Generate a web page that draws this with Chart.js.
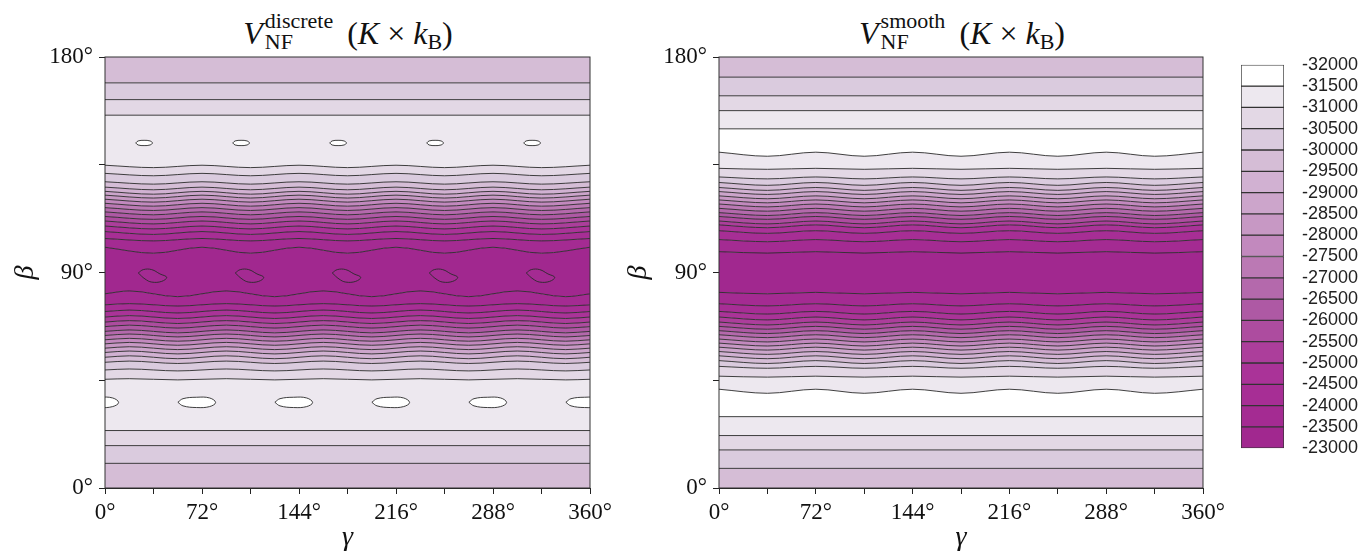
<!DOCTYPE html>
<html>
<head>
<meta charset="utf-8">
<script src="https://cdn.jsdelivr.net/npm/chart.js@4.4.1/dist/chart.umd.min.js"></script>
<style>
body { margin: 0; background: #fff; width: 1363px; height: 552px; overflow: hidden; position: relative; font-family: 'Liberation Serif', serif; }
canvas { position: absolute; }
.ttl { position: absolute; top: 10px; width: 480px; text-align: center; font-size: 32px; line-height: 40px; color: #111; white-space: nowrap; }
.ss { display: inline-flex; flex-direction: column; font-size: 22px; line-height: 21px; vertical-align: 16px; margin-left: 2px; text-align: left; }
.sub { font-size: 22px; vertical-align: -5px; }
.gap { display: inline-block; width: 14px; }
</style>
</head>
<body>
<div class="ttl" style="left:108px"><i>V</i><span class="ss"><span>discrete</span><span>NF</span></span><span class="gap"></span>(<i>K</i>&nbsp;×&nbsp;<i>k</i><span class="sub">B</span>)</div>
<div class="ttl" style="left:722px"><i>V</i><span class="ss"><span>smooth</span><span>NF</span></span><span class="gap"></span>(<i>K</i>&nbsp;×&nbsp;<i>k</i><span class="sub">B</span>)</div>
<canvas id="left" width="620" height="552" style="left:0;top:0"></canvas>
<canvas id="right" width="619" height="552" style="left:614px;top:0"></canvas>
<canvas id="bar" width="127" height="441" style="left:1236px;top:36px"></canvas>
<script>
// tick labels
const gammaTicks = [0, 72, 144, 216, 288, 360];
const betaTicks = [0, 90, 180];
const colorbarTicks = [-32000, -31500, -31000, -30500, -30000, -29500, -29000, -28500, -28000, -27500,
  -27000, -26500, -26000, -25500, -25000, -24500, -24000, -23500, -23000];
const bandColors = ['#ffffff', '#ede8ef', '#e3d8e5', '#dacbde', '#d5bdd6', '#d1b1d2', '#cca5cb', '#c798c4', '#c289be',
  '#bb79b4', '#b469ac', '#ae59a4', '#ad4c9f', '#ac3e9b', '#aa3398', '#a72e95', '#a42b92', '#a1288f'];

// gamma positions where the contour lines were read
const gammaFlat = [0, 360];
const gammaWave = [0, 36, 72, 108, 144, 180, 216, 252, 288, 324, 360];
const gammaWaveShifted = [0, 18, 54, 90, 126, 162, 198, 234, 270, 306, 342, 360];

// left panel (discrete): contour lines from bottom to top, beta in degrees
const leftBetas = [
  [10.3, 10.3],
  [17.7, 17.7],
  [24.0, 24.0],
  [45.4, 45.65, 45.15, 45.65, 45.15, 45.65, 45.15, 45.65, 45.15, 45.65, 45.15, 45.4],
  [49.3, 49.7, 48.9, 49.7, 48.9, 49.7, 48.9, 49.7, 48.9, 49.7, 48.9, 49.3],
  [52.5, 53.0, 52.0, 53.0, 52.0, 53.0, 52.0, 53.0, 52.0, 53.0, 52.0, 52.5],
  [54.6, 55.2, 54.0, 55.2, 54.0, 55.2, 54.0, 55.2, 54.0, 55.2, 54.0, 54.6],
  [56.6, 57.2, 56.0, 57.2, 56.0, 57.2, 56.0, 57.2, 56.0, 57.2, 56.0, 56.6],
  [58.4, 59.0, 57.8, 59.0, 57.8, 59.0, 57.8, 59.0, 57.8, 59.0, 57.8, 58.4],
  [60.2, 60.8, 59.6, 60.8, 59.6, 60.8, 59.6, 60.8, 59.6, 60.8, 59.6, 60.2],
  [61.9, 62.5, 61.3, 62.5, 61.3, 62.5, 61.3, 62.5, 61.3, 62.5, 61.3, 61.9],
  [63.7, 64.3, 63.1, 64.3, 63.1, 64.3, 63.1, 64.3, 63.1, 64.3, 63.1, 63.7],
  [65.4, 66.0, 64.8, 66.0, 64.8, 66.0, 64.8, 66.0, 64.8, 66.0, 64.8, 65.4],
  [67.4, 68.0, 66.8, 68.0, 66.8, 68.0, 66.8, 68.0, 66.8, 68.0, 66.8, 67.4],
  [69.3, 69.9, 68.7, 69.9, 68.7, 69.9, 68.7, 69.9, 68.7, 69.9, 68.7, 69.3],
  [71.4, 72.0, 70.8, 72.0, 70.8, 72.0, 70.8, 72.0, 70.8, 72.0, 70.8, 71.4],
  [73.7, 74.3, 73.1, 74.3, 73.1, 74.3, 73.1, 74.3, 73.1, 74.3, 73.1, 73.7],
  [76.5, 77.0, 76.0, 77.0, 76.0, 77.0, 76.0, 77.0, 76.0, 77.0, 76.0, 76.5],
  [81.1, 82.3, 79.9, 82.3, 79.9, 82.3, 79.9, 82.3, 79.9, 82.3, 79.9, 81.1],
  [100.55, 98.05, 100.55, 98.05, 100.55, 98.05, 100.55, 98.05, 100.55, 98.05, 100.55],
  [104.2, 103.2, 104.2, 103.2, 104.2, 103.2, 104.2, 103.2, 104.2, 103.2, 104.2],
  [107.1, 105.9, 107.1, 105.9, 107.1, 105.9, 107.1, 105.9, 107.1, 105.9, 107.1],
  [109.4, 108.2, 109.4, 108.2, 109.4, 108.2, 109.4, 108.2, 109.4, 108.2, 109.4],
  [111.5, 110.3, 111.5, 110.3, 111.5, 110.3, 111.5, 110.3, 111.5, 110.3, 111.5],
  [113.4, 112.2, 113.4, 112.2, 113.4, 112.2, 113.4, 112.2, 113.4, 112.2, 113.4],
  [115.3, 114.1, 115.3, 114.1, 115.3, 114.1, 115.3, 114.1, 115.3, 114.1, 115.3],
  [117.1, 115.9, 117.1, 115.9, 117.1, 115.9, 117.1, 115.9, 117.1, 115.9, 117.1],
  [118.9, 117.7, 118.9, 117.7, 118.9, 117.7, 118.9, 117.7, 118.9, 117.7, 118.9],
  [120.6, 119.4, 120.6, 119.4, 120.6, 119.4, 120.6, 119.4, 120.6, 119.4, 120.6],
  [122.3, 121.1, 122.3, 121.1, 122.3, 121.1, 122.3, 121.1, 122.3, 121.1, 122.3],
  [123.9, 122.7, 123.9, 122.7, 123.9, 122.7, 123.9, 122.7, 123.9, 122.7, 123.9],
  [125.65, 124.55, 125.65, 124.55, 125.65, 124.55, 125.65, 124.55, 125.65, 124.55, 125.65],
  [127.9, 126.9, 127.9, 126.9, 127.9, 126.9, 127.9, 126.9, 127.9, 126.9, 127.9],
  [131.4, 130.4, 131.4, 130.4, 131.4, 130.4, 131.4, 130.4, 131.4, 130.4, 131.4],
  [134.8, 133.8, 134.8, 133.8, 134.8, 133.8, 134.8, 133.8, 134.8, 133.8, 134.8],
  [155.7, 155.7],
  [162.2, 162.2],
  [169.2, 169.2]
];
// lower edge (value) of the band filling each gap, bottom edge to top edge
const leftGapLevels = [-30000, -30500, -31000, -31500, -31000, -30500, -30000, -29500, -29000, -28500,
  -28000, -27500, -27000, -26500, -26000, -25500, -25000, -24500, -24000, -23500,
  -24000, -24500, -25000, -25500, -26000, -26500, -27000, -27500, -28000, -28500,
  -29000, -29500, -30000, -30500, -31000, -31500, -31000, -30500, -30000];

// closed contour islands in the left panel
const upperIslandGammas = [29, 101, 173, 245, 317];
const upperIslandBeta = 144.1;
const upperIslandDx = [-6.2, -4.4, 0, 4.4, 6.2, 4.4, 0, -4.4, -6.2];
const upperIslandDb = [0, 0.85, 1.1, 0.85, 0, -0.85, -1.1, -0.85, 0];
const midIslandGammas = [35, 107, 179, 251, 323];
const midIslandBeta = 88.6;
const midIslandDx = [-10.3, -6.6, -0.3, 5.8, 10.8, 7.1, -0.3, -5.3, -10.3];
const midIslandDb = [1.2, 2.6, 2.6, 0.8, -0.6, -2.3, -2.6, -1.3, 1.2];
const lowerIslandGammas = [-4, 68, 140, 212, 284, 356];
const lowerIslandBeta = 35.8;
const lowerIslandDx = [-13.9, -10.1, 0, 9.7, 14.1, 9.7, 0, -10.1, -13.9];
const lowerIslandDb = [0, 1.5, 2.1, 1.8, -0.1, -1.8, -2.2, -1.5, 0];

// right panel (smooth): contour lines from bottom to top
const rightBetas = [
  [8.2, 8.2],
  [15.9, 15.9],
  [21.9, 21.9],
  [29.8, 29.8],
  [41.25, 39.55, 41.25, 39.55, 41.25, 39.55, 41.25, 39.55, 41.25, 39.55, 41.25],
  [46.7, 46.3, 46.7, 46.3, 46.7, 46.3, 46.7, 46.3, 46.7, 46.3, 46.7],
  [50.8, 50.0, 50.8, 50.0, 50.8, 50.0, 50.8, 50.0, 50.8, 50.0, 50.8],
  [53.2, 52.0, 53.2, 52.0, 53.2, 52.0, 53.2, 52.0, 53.2, 52.0, 53.2],
  [55.2, 54.0, 55.2, 54.0, 55.2, 54.0, 55.2, 54.0, 55.2, 54.0, 55.2],
  [57.0, 55.8, 57.0, 55.8, 57.0, 55.8, 57.0, 55.8, 57.0, 55.8, 57.0],
  [58.8, 57.6, 58.8, 57.6, 58.8, 57.6, 58.8, 57.6, 58.8, 57.6, 58.8],
  [60.5, 59.3, 60.5, 59.3, 60.5, 59.3, 60.5, 59.3, 60.5, 59.3, 60.5],
  [62.2, 61.0, 62.2, 61.0, 62.2, 61.0, 62.2, 61.0, 62.2, 61.0, 62.2],
  [64.0, 62.8, 64.0, 62.8, 64.0, 62.8, 64.0, 62.8, 64.0, 62.8, 64.0],
  [65.7, 64.5, 65.7, 64.5, 65.7, 64.5, 65.7, 64.5, 65.7, 64.5, 65.7],
  [67.5, 66.3, 67.5, 66.3, 67.5, 66.3, 67.5, 66.3, 67.5, 66.3, 67.5],
  [69.3, 68.1, 69.3, 68.1, 69.3, 68.1, 69.3, 68.1, 69.3, 68.1, 69.3],
  [71.4, 70.2, 71.4, 70.2, 71.4, 70.2, 71.4, 70.2, 71.4, 70.2, 71.4],
  [73.75, 72.65, 73.75, 72.65, 73.75, 72.65, 73.75, 72.65, 73.75, 72.65, 73.75],
  [76.95, 76.05, 76.95, 76.05, 76.95, 76.05, 76.95, 76.05, 76.95, 76.05, 76.95],
  [81.7, 81.1, 81.7, 81.1, 81.7, 81.1, 81.7, 81.1, 81.7, 81.1, 81.7],
  [98.7, 98.1, 98.7, 98.1, 98.7, 98.1, 98.7, 98.1, 98.7, 98.1, 98.7],
  [103.75, 102.85, 103.75, 102.85, 103.75, 102.85, 103.75, 102.85, 103.75, 102.85, 103.75],
  [107.45, 106.35, 107.45, 106.35, 107.45, 106.35, 107.45, 106.35, 107.45, 106.35, 107.45],
  [109.9, 108.7, 109.9, 108.7, 109.9, 108.7, 109.9, 108.7, 109.9, 108.7, 109.9],
  [111.5, 110.3, 111.5, 110.3, 111.5, 110.3, 111.5, 110.3, 111.5, 110.3, 111.5],
  [113.4, 112.2, 113.4, 112.2, 113.4, 112.2, 113.4, 112.2, 113.4, 112.2, 113.4],
  [115.0, 113.8, 115.0, 113.8, 115.0, 113.8, 115.0, 113.8, 115.0, 113.8, 115.0],
  [116.8, 115.6, 116.8, 115.6, 116.8, 115.6, 116.8, 115.6, 116.8, 115.6, 116.8],
  [118.6, 117.4, 118.6, 117.4, 118.6, 117.4, 118.6, 117.4, 118.6, 117.4, 118.6],
  [120.3, 119.1, 120.3, 119.1, 120.3, 119.1, 120.3, 119.1, 120.3, 119.1, 120.3],
  [122.0, 120.8, 122.0, 120.8, 122.0, 120.8, 122.0, 120.8, 122.0, 120.8, 122.0],
  [123.8, 122.6, 123.8, 122.6, 123.8, 122.6, 123.8, 122.6, 123.8, 122.6, 123.8],
  [125.5, 124.3, 125.5, 124.3, 125.5, 124.3, 125.5, 124.3, 125.5, 124.3, 125.5],
  [127.6, 126.4, 127.6, 126.4, 127.6, 126.4, 127.6, 126.4, 127.6, 126.4, 127.6],
  [129.9, 129.1, 129.9, 129.1, 129.9, 129.1, 129.9, 129.1, 129.9, 129.1, 129.9],
  [133.5, 133.1, 133.5, 133.1, 133.5, 133.1, 133.5, 133.1, 133.5, 133.1, 133.5],
  [140.25, 138.55, 140.25, 138.55, 140.25, 138.55, 140.25, 138.55, 140.25, 138.55, 140.25],
  [150.0, 150.0],
  [157.6, 157.6],
  [163.8, 163.8],
  [171.6, 171.6]
];
const rightGapLevels = [-30000, -30500, -31000, -31500, -32000, -31500, -31000, -30500, -30000, -29500,
  -29000, -28500, -28000, -27500, -27000, -26500, -26000, -25500, -25000, -24500,
  -24000, -23500, -24000, -24500, -25000, -25500, -26000, -26500, -27000, -27500,
  -28000, -28500, -29000, -29500, -30000, -30500, -31000, -31500, -32000, -31500,
  -31000, -30500, -30000];

const serif = "'Liberation Serif', 'Times New Roman', serif";
const lineColor = '#2a2a2a';
const grids = { 2: gammaFlat, 11: gammaWave, 12: gammaWaveShifted };

function bandColor(level) {
  return bandColors[colorbarTicks.indexOf(level)];
}

function contourSets(betas, gapLevels, islands) {
  const sets = betas.map((line, i) => ({
    data: line.map((b, k) => ({ x: grids[line.length][k], y: b })),
    borderColor: lineColor,
    borderWidth: 0.9,
    pointRadius: 0,
    cubicInterpolationMode: 'monotone',
    fill: i === 0 ? 'start' : '-1',
    backgroundColor: bandColor(gapLevels[i]),
    order: 1
  }));
  // top edge of the plot closes the last band
  sets.push({
    data: [{ x: 0, y: 180 }, { x: 360, y: 180 }],
    borderColor: 'rgba(0,0,0,0)',
    borderWidth: 0,
    pointRadius: 0,
    fill: '-1',
    backgroundColor: bandColor(gapLevels[betas.length]),
    order: 1
  });
  islands.forEach(isl => {
    isl.gammas.forEach(g => {
      sets.push({
        data: isl.dx.map((d, k) => ({ x: g + d, y: isl.beta + isl.db[k] })),
        borderColor: lineColor,
        borderWidth: 0.9,
        pointRadius: 0,
        tension: 0.4,
        fill: 'shape',
        backgroundColor: bandColor(isl.level),
        order: 0
      });
    });
  });
  return sets;
}

const framePlugin = {
  id: 'frame',
  afterDatasetsDraw(chart) {
    const { ctx, chartArea: a } = chart;
    ctx.save();
    ctx.strokeStyle = '#333';
    ctx.lineWidth = 1;
    ctx.strokeRect(a.left, a.top, a.right - a.left, a.bottom - a.top);
    ctx.restore();
  }
};

function panelOptions(betaPad) {
  return {
    responsive: false,
    animation: false,
    events: [],
    layout: { padding: { top: 57, right: 30, left: 0, bottom: 0 } },
    plugins: { legend: { display: false }, tooltip: { enabled: false } },
    scales: {
      x: {
        type: 'linear', min: 0, max: 360,
        afterFit: s => { s.height = 64; },
        ticks: {
          stepSize: 36, autoSkip: false, maxRotation: 0, padding: 5, color: '#111',
          font: { family: serif, size: 23 },
          callback: v => gammaTicks.includes(v) ? v + '°' : ''
        },
        grid: { drawOnChartArea: false, tickLength: 6, color: '#222' },
        border: { color: '#222' },
        title: { display: true, text: 'γ', color: '#111', padding: { top: 0, bottom: 0 },
          font: { family: serif, size: 28, style: 'italic', lineHeight: 1 } }
      },
      y: {
        type: 'linear', min: 0, max: 180,
        afterFit: s => { s.width = 105; },
        ticks: {
          stepSize: 45, autoSkip: false, padding: 6, color: '#111',
          font: { family: serif, size: 23 },
          callback: v => betaTicks.includes(v) ? v + '°' : ''
        },
        grid: { drawOnChartArea: false, tickLength: 6, color: '#222' },
        border: { color: '#222' },
        title: { display: true, text: 'β', color: '#111', padding: { top: betaPad, bottom: 0 },
          font: { family: serif, size: 28, style: 'italic', lineHeight: 1 } }
      }
    }
  };
}

new Chart(document.getElementById('left'), {
  type: 'line',
  data: {
    datasets: contourSets(leftBetas, leftGapLevels, [
      { gammas: upperIslandGammas, beta: upperIslandBeta, dx: upperIslandDx, db: upperIslandDb, level: -32000 },
      { gammas: midIslandGammas, beta: midIslandBeta, dx: midIslandDx, db: midIslandDb, level: -24000 },
      { gammas: lowerIslandGammas, beta: lowerIslandBeta, dx: lowerIslandDx, db: lowerIslandDb, level: -32000 }
    ])
  },
  options: panelOptions(12),
  plugins: [framePlugin]
});

new Chart(document.getElementById('right'), {
  type: 'line',
  data: { datasets: contourSets(rightBetas, rightGapLevels, []) },
  options: panelOptions(11),
  plugins: [framePlugin]
});

// colour bar
new Chart(document.getElementById('bar'), {
  type: 'bar',
  data: {
    labels: [''],
    datasets: bandColors.map((c, i) => ({
      data: [[colorbarTicks[i], colorbarTicks[i + 1]]],
      backgroundColor: c,
      borderColor: '#333',
      borderWidth: 1,
      borderSkipped: false,
      barPercentage: 1,
      categoryPercentage: 1,
      grouped: false
    }))
  },
  options: {
    responsive: false,
    animation: false,
    events: [],
    layout: { padding: { left: 5, top: 0, bottom: 0, right: 0 } },
    plugins: { legend: { display: false }, tooltip: { enabled: false } },
    scales: {
      x: { display: false },
      y: {
        position: 'right', reverse: true, min: -32000, max: -23000,
        afterFit: s => { s.width = 79; },
        ticks: {
          stepSize: 500, autoSkip: false, padding: 18, color: '#222',
          font: { family: "'Liberation Sans', Arial, sans-serif", size: 18 },
          callback: v => String(v)
        },
        grid: { display: false, drawTicks: false },
        border: { display: false }
      }
    }
  }
});
</script>
</body>
</html>
